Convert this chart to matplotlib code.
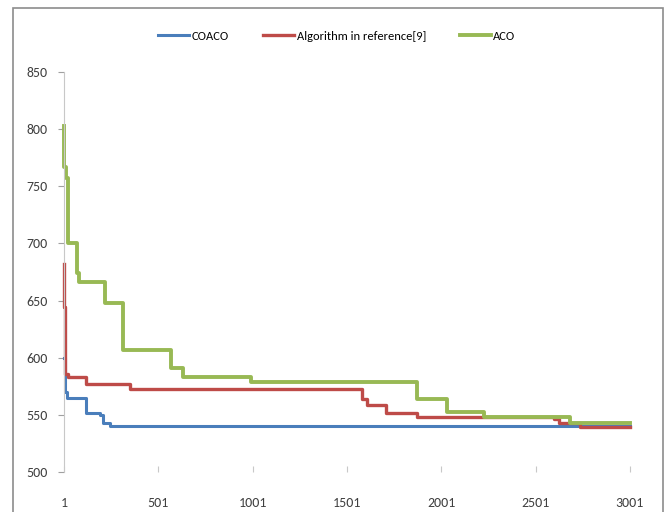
import matplotlib
matplotlib.use("Agg")
import matplotlib.pyplot as plt
from matplotlib.patches import Rectangle

plt.rcParams['font.family'] = ['Carlito', 'Roboto Condensed', 'DejaVu Sans']

# step curves: iteration where a new best value appears, and that value
coaco_iter = [1, 5, 15, 117, 191, 208, 245, 3001]
coaco_val = [600, 570, 565, 552, 550, 543, 540, 540]

ref_iter = [1, 3, 8, 21, 117, 350, 1580, 1605, 1710, 1870, 2597, 2625, 2737, 3001]
ref_val = [682, 644, 586, 583, 577, 573, 564, 558.5, 551.5, 548, 546, 543, 539.5, 539.5]

aco_iter = [1, 3, 10, 21, 70, 80, 218, 312, 568, 633, 992, 1872, 2030, 2226, 2683, 3001]
aco_val = [803, 767, 757, 700, 674, 666, 648, 607, 591, 583, 579, 564, 552.5, 548, 543, 543]

x_ticks = [1, 501, 1001, 1501, 2001, 2501, 3001]
y_ticks = [500, 550, 600, 650, 700, 750, 800, 850]

fig = plt.figure(figsize=(6.67, 5.12), dpi=100)
ax = fig.add_axes([64/667, 1 - 472/512, (630 - 64)/667, 400/512])

ax.plot(coaco_iter, coaco_val, drawstyle='steps-post', color='#4a7ebb', lw=2.2,
        label='COACO', clip_on=False)
ax.plot(ref_iter, ref_val, drawstyle='steps-post', color='#be4b48', lw=2.4,
        label='Algorithm in reference[9]', clip_on=False)
ax.plot(aco_iter, aco_val, drawstyle='steps-post', color='#98b954', lw=2.8,
        label='ACO', clip_on=False)

ax.set_xlim(1, 3001)
ax.set_ylim(500, 850)
ax.set_xticks(x_ticks)
ax.set_yticks(y_ticks)

for s in ['top', 'right', 'bottom']:
    ax.spines[s].set_visible(False)
ax.spines['left'].set_color('#c8c8c8')
ax.tick_params(axis='y', direction='out', length=4, color='#a0a0a0', pad=8,
               labelsize=10, labelcolor='#404040')
ax.tick_params(axis='x', direction='in', length=4, color='#c8c8c8', pad=18,
               labelsize=10, labelcolor='#404040')

# outer chart frame
fig.patches.append(Rectangle((13/667, -0.05), (663 - 13)/667, 1 - 8/512 + 0.05,
                             transform=fig.transFigure, fill=False,
                             edgecolor='#8c8c8c', lw=1.2))

fig.legend(loc='center', bbox_to_anchor=(0.505, 1 - 36/512), ncol=3, frameon=False,
           fontsize=9, handlelength=2.5, handletextpad=0.2, columnspacing=2.7)

fig.savefig('out.png', dpi=100)
